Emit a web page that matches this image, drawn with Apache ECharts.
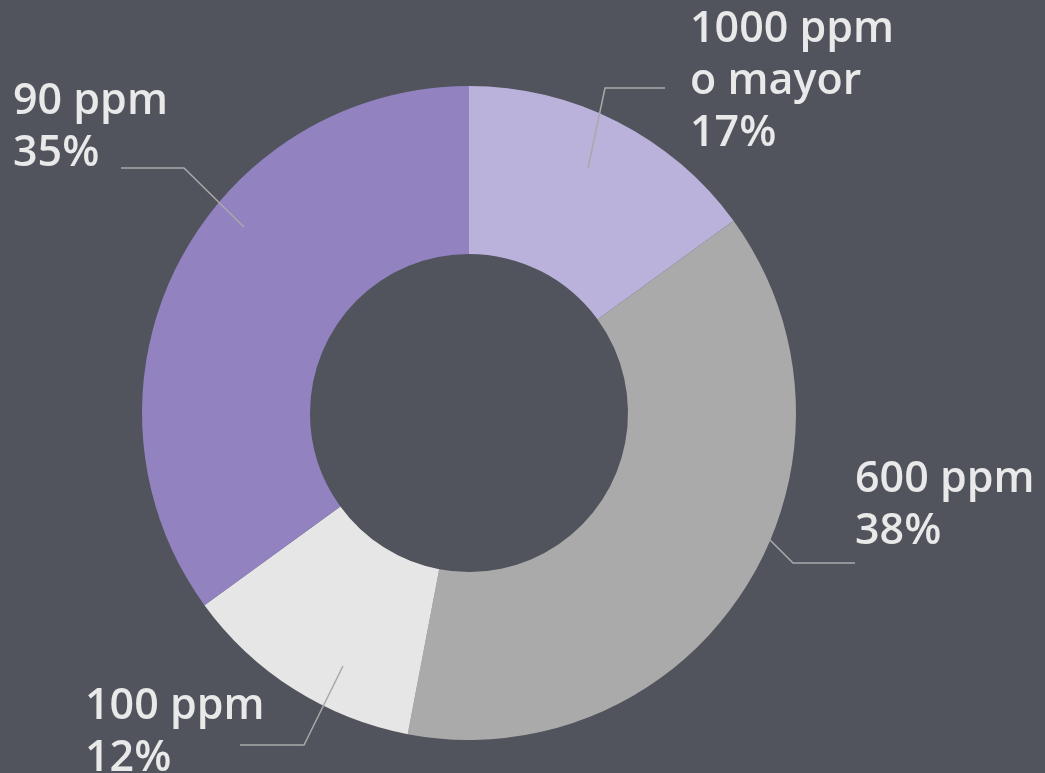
<!DOCTYPE html>
<html>
<head>
<meta charset="utf-8">
<script src="https://cdn.jsdelivr.net/npm/echarts@6/dist/echarts.min.js"></script>
<style>
html,body{margin:0;padding:0;background:#51545d;}
#chart{width:1045px;height:773px;}
</style>
</head>
<body>
<div id="chart"></div>
<script>
// Data
const categories = ['1000 ppm\no mayor', '600 ppm', '100 ppm', '90 ppm'];
const sliceValues = [15, 38, 12, 35];
const percentLabels = ['17%', '38%', '12%', '35%'];
const sliceColors = ['#bbb2dc', '#aaaaaa', '#e6e6e6', '#9283c0'];

// Label layout (positions only)
const labelPlacement = [
  { x: 690, y: 4,   line: [[588, 168], [605, 88], [665, 88]] },
  { x: 855, y: 454, line: [[755, 525], [793, 563], [855, 563]] },
  { x: 85,  y: 681, line: [[343, 666], [304, 745], [240, 745]] },
  { x: 13,  y: 76,  line: [[244, 227], [184, 168], [121, 168]] }
];

const pieGeom = { center: [469, 413], radius: [159, 327], startAngle: 90, clockwise: true };

const chart = echarts.init(document.getElementById('chart'));
chart.setOption({
  backgroundColor: '#51545d',
  animation: false,
  series: [
    Object.assign({
      type: 'pie',
      z: 2,
      avoidLabelOverlap: false,
      data: categories.map((c, i) => ({
        name: c,
        value: sliceValues[i],
        itemStyle: { color: sliceColors[i] }
      })),
      itemStyle: { borderWidth: 0 },
      label: { show: false },
      labelLine: { show: false },
      emphasis: { disabled: true },
      silent: true
    }, pieGeom),
    Object.assign({
      type: 'pie',
      z: 5,
      avoidLabelOverlap: false,
      data: categories.map((c, i) => ({
        name: c,
        value: sliceValues[i],
        itemStyle: { color: 'rgba(0,0,0,0)' }
      })),
      itemStyle: { borderWidth: 0 },
      label: {
        show: true,
        position: 'outside',
        formatter: p => p.name + '\n' + percentLabels[p.dataIndex],
        color: '#e9e9e9',
        fontFamily: 'Open Sans',
        fontWeight: 600,
        fontSize: 43,
        lineHeight: 52,
        align: 'left'
      },
      labelLine: {
        show: true,
        lineStyle: { color: '#a9a9a9', width: 1.5 }
      },
      labelLayout: function (params) {
        const lp = labelPlacement[params.dataIndex];
        return {
          x: lp.x,
          y: lp.y,
          align: 'left',
          verticalAlign: 'top',
          labelLinePoints: lp.line
        };
      },
      emphasis: { disabled: true },
      silent: true
    }, pieGeom)
  ]
});
</script>
</body>
</html>
